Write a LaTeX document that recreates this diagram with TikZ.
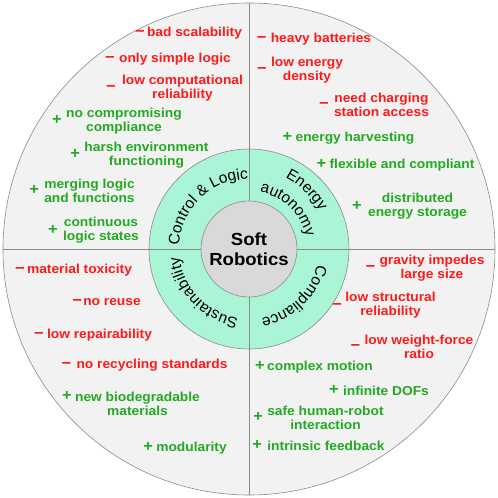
\documentclass[tikz,border=0pt]{standalone}
\usepackage{fontspec}
\setmainfont{Liberation Sans}
\newfontfamily\itemfont[FakeStretch=1.06]{Liberation Sans}
\usetikzlibrary{positioning, calc, decorations.text}

\definecolor{conred}{HTML}{FF1A1A}
\definecolor{progreen}{HTML}{22AA22}
\definecolor{ringmint}{HTML}{A9F5D6}
\definecolor{discgrey}{HTML}{F2F2F2}
\definecolor{coregrey}{HTML}{D9D9D9}
\definecolor{linegrey}{HTML}{8C8C8C}

\newcommand\ringfont{\rmfamily\fontsize{15.5}{17}\selectfont}

\begin{document}
\begin{tikzpicture}[x=1pt, y=1pt,
  every node/.style={inner sep=0pt, align=center},
  con/.style={text=conred, font=\itemfont\bfseries\fontsize{13}{14}\selectfont},
  pro/.style={text=progreen, font=\itemfont\bfseries\fontsize{13}{14}\selectfont},
  conmark/.style={text=conred, text height=0.7em, text depth=0pt, font=\itemfont\bfseries\fontsize{15.5}{15}\selectfont},
  promark/.style={text=progreen, text height=0.7em, text depth=0pt, font=\itemfont\bfseries\fontsize{15.5}{15}\selectfont},
  divider/.style={draw=linegrey, line width=0.7pt},
  ringtext/.style={decorate, decoration={text along path, text align=center, text={#1}}}]
  \useasboundingbox (-249,-249) rectangle (249,249);

  \node[circle, minimum size=492pt, fill=discgrey, draw=linegrey, line width=0.6pt] (disc) at (0,0) {};
  \node[circle, minimum size=200pt, fill=ringmint, draw=linegrey, line width=0.6pt] (ring) at (0,0) {};
  \draw[divider] (disc.north) -- (disc.south);
  \draw[divider] (disc.west) -- (disc.east);
  \node[circle, minimum size=96pt, fill=coregrey, draw=linegrey, line width=0.6pt,
        font=\itemfont\bfseries\fontsize{17.5}{20}\selectfont] (core) at (0,0) {Soft\\Robotics};

  \path[ringtext={|\ringfont|Control {\&} Logic}] (200:70) arc[start angle=200, end angle=68, radius=70];
  \path[ringtext={|\ringfont|Energy}] (110:80) arc[start angle=110, end angle=-19, radius=80];
  \path[ringtext={|\ringfont|autonomy}] (110:58) arc[start angle=110, end angle=-19, radius=58];
  \path[ringtext={|\ringfont|Compliance}] (20:70) arc[start angle=20, end angle=-113, radius=70];
  \path[ringtext={|\ringfont|Sustainability}] (290:70) arc[start angle=290, end angle=158, radius=70];

  \node[con] (c1) at (-54.5,216) {bad scalability};
  \node[conmark, left=2pt of c1] (c1m) {\char"2212};
  \node[con] (c2) at (-74,190) {only simple logic};
  \node[conmark, left=4pt of c2] (c2m) {\char"2212};
  \node[con] (c3) at (-66.5,161) {low computational\\reliability};
  \node[conmark, left=6pt of c3] (c3m) {\char"2212};
  \node[pro] (p1) at (-125,127.5) {no compromising\\compliance};
  \node[promark, left=4pt of p1] (p1m) {+};
  \node[pro] (p2) at (-102.5,94) {harsh environment\\functioning};
  \node[promark, left=4pt of p2] (p2m) {+};
  \node[pro] (p3) at (-159.5,58.5) {merging logic\\and functions};
  \node[promark, left=5pt of p3] (p3m) {+};
  \node[pro] (p4) at (-148,18.5) {continuous\\logic states};
  \node[promark, left=5pt of p4] (p4m) {+};

  \node[con] (c4) at (72,210) {heavy batteries};
  \node[conmark, left=4pt of c4] (c4m) {\char"2212};
  \node[con] (c5) at (58,179) {low energy\\density};
  \node[conmark, left=4pt of c5] (c5m) {\char"2212};
  \node[con] (c6) at (132.5,144) {need charging\\station access};
  \node[conmark, left=5pt of c6] (c6m) {\char"2212};
  \node[pro] (p5) at (106,111) {energy harvesting};
  \node[promark, left=3pt of p5] (p5m) {+};
  \node[pro] (p6) at (153,84) {flexible and compliant};
  \node[promark, left=3pt of p6] (p6m) {+};
  \node[pro] (p7) at (168.5,42.5) {distributed\\energy storage};
  \node[promark, left=6pt of p7] (p7m) {+};

  \node[con] (c7) at (-169.5,-21) {material toxicity};
  \node[conmark, left=2pt of c7] (c7m) {\char"2212};
  \node[con] (c8) at (-137,-53) {no reuse};
  \node[conmark, left=1pt of c8] (c8m) {\char"2212};
  \node[con] (c9) at (-149.5,-86) {low repairability};
  \node[conmark, left=3pt of c9] (c9m) {\char"2212};
  \node[con] (c10) at (-97,-116) {no recycling standards};
  \node[conmark, left=5pt of c10] (c10m) {\char"2212};
  \node[pro] (p8) at (-111.5,-154.5) {new biodegradable\\materials};
  \node[promark, anchor=east] (p8m) at ($(p8.west)+(-3,7)$) {+};
  \node[pro] (p9) at (-57.5,-199) {modularity};
  \node[promark, left=3pt of p9] (p9m) {+};

  \node[con] (c11) at (183,-19) {gravity impedes\\large size};
  \node[conmark, left=4pt of c11] (c11m) {\char"2212};
  \node[con] (c12) at (141.5,-56.5) {low structural\\reliability};
  \node[conmark, left=3pt of c12] (c12m) {\char"2212};
  \node[con] (c13) at (170,-98) {low weight-force\\ratio};
  \node[conmark, left=4pt of c13] (c13m) {\char"2212};
  \node[pro] (p10) at (71,-118) {complex motion};
  \node[promark, left=2pt of p10] (p10m) {+};
  \node[pro] (p11) at (137,-142) {infinite DOFs};
  \node[promark, left=4pt of p11] (p11m) {+};
  \node[pro] (p12) at (76.5,-168.5) {safe human-robot\\interaction};
  \node[promark, left=4pt of p12] (p12m) {+};
  \node[pro] (p13) at (77,-197) {intrinsic feedback};
  \node[promark, left=5pt of p13] (p13m) {+};
\end{tikzpicture}
\end{document}
